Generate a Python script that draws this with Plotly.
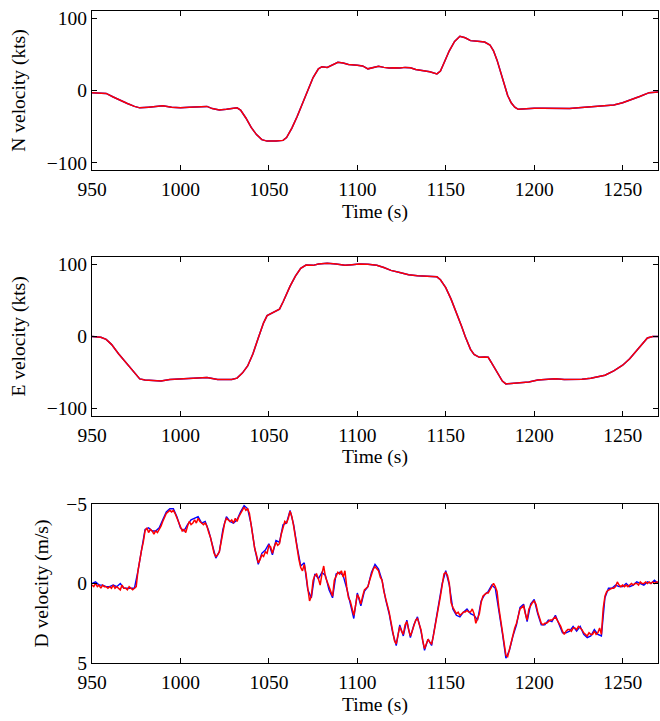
import numpy as np
import plotly.graph_objects as go
from plotly.subplots import make_subplots

# ---------------- data ----------------
n_time = [950, 955, 958, 962, 966, 970, 974, 977, 982, 986, 990, 995, 1000, 1005, 1010, 1015,
          1018, 1022, 1026, 1030, 1032, 1034, 1037, 1040, 1043, 1046, 1049, 1054, 1058, 1060,
          1063, 1066, 1069, 1072, 1075, 1078, 1080, 1083, 1086, 1089, 1092, 1095, 1100, 1103,
          1106, 1109, 1112, 1115, 1118, 1121, 1124, 1127, 1130, 1133, 1137, 1141, 1145, 1147,
          1149, 1152, 1155, 1158, 1161, 1164, 1168, 1172, 1175, 1177, 1179, 1181, 1183, 1185,
          1187, 1189, 1191, 1195, 1200, 1205, 1210, 1215, 1220, 1225, 1230, 1235, 1240, 1245,
          1250, 1255, 1260, 1265, 1270]
n_vel = [-3, -3, -4, -9, -14, -18, -22, -24, -23, -22, -21, -23, -24, -23, -23, -22,
         -25, -27, -26, -24, -24, -27, -38, -51, -61, -68, -70, -70, -69, -65,
         -52, -36, -18, 0, 18, 30, 33, 32, 35, 39, 38, 36, 35, 34,
         30, 32, 33.5, 32, 31, 31.5, 31, 32, 31.5, 29, 27.5, 26, 23, 27,
         38, 55, 68, 75, 73, 69, 68, 67, 63, 55, 42, 25, 9, -7,
         -17, -23, -26, -25, -24.5, -24.5, -25, -25, -25, -24, -23, -22.5, -21.5, -20,
         -17, -13, -8, -3, -2]

e_time = [950, 955, 958, 961, 965, 969, 973, 977, 980, 985, 989, 994, 1000, 1005, 1010, 1015,
          1018, 1021, 1025, 1029, 1032, 1035, 1038, 1041, 1044, 1047, 1049, 1052, 1056, 1058,
          1060, 1062, 1065, 1068, 1071, 1075, 1078, 1083, 1088, 1093, 1097, 1101, 1106, 1111,
          1115, 1119, 1124, 1129, 1134, 1139, 1145, 1147, 1150, 1153, 1156, 1159, 1161, 1164,
          1166, 1169, 1172, 1174, 1176, 1179, 1182, 1184, 1188, 1192, 1197, 1202, 1207, 1212,
          1217, 1222, 1227, 1232, 1237, 1240, 1245, 1250, 1254, 1257, 1261, 1264, 1267, 1270]
e_vel = [0, -1, -4, -11, -24, -36, -48, -59, -60.5, -61.5, -62, -60, -59, -58, -57, -57,
         -58.5, -60, -60, -60, -58, -51, -41, -24, -2, 19, 29, 33, 38, 48,
         60, 70, 84, 95, 99.5, 99, 101, 102, 101, 99, 100, 101, 100.5, 99,
         96, 92, 89, 86, 84.5, 83.5, 83, 79, 68, 52, 34, 14, 0, -18,
         -25, -29, -28.5, -29, -37, -50, -62, -66, -65, -65, -63.5, -60.5, -59.5, -59,
         -60, -60, -59.5, -58, -56, -54, -48, -40, -31, -22, -10, -2, 0, 0]

# D velocity, red trace: 1 s samples from t = 950 s
d_red_start, d_red_step = 950, 1
d_red = [0.1, 0.2, 0.0, 0.2, 0.1, 0.3, 0.1, 0.2, 0.2, 0.3,
         0.2, 0.3, 0.1, 0.3, 0.2, 0.3, 0.4, 0.1, 0.3, 0.3,
         0.4, 0.2, 0.3, 0.4, 0.3, 0.2, -0.8, -1.6, -2.1, -2.6,
         -3.3, -3.5, -3.2, -3.4, -3.3, -3.1, -3.3, -3.2, -3.4, -3.6,
         -3.9, -4.2, -4.4, -4.5, -4.6, -4.5, -4.6, -4.4, -4.1, -3.8,
         -3.5, -3.3, -3.4, -3.2, -3.6, -3.9, -3.7, -3.8, -4.0, -3.8,
         -4.1, -3.9, -3.8, -3.7, -3.8, -3.6, -3.2, -2.9, -2.4, -1.9,
         -1.7, -1.8, -2.0, -2.6, -3.3, -3.8, -4.1, -4.0, -3.9, -4.0,
         -3.8, -4.1, -3.9, -4.2, -4.4, -4.6, -4.8, -4.6, -4.7, -4.4,
         -3.6, -2.7, -2.2, -1.8, -1.3, -1.5, -1.8, -1.7, -2.0, -1.9,
         -2.4, -2.3, -1.9, -2.3, -2.6, -2.4, -2.5, -3.1, -3.6, -3.9,
         -3.8, -4.1, -4.55, -4.2, -3.6, -2.8, -2.2, -1.5, -1.0, -0.8,
         -1.2, -0.6, 0.3, 1.1, 0.8, -0.2, -0.5, -0.6, -0.3, 0.1,
         -0.6, -1.1, -0.4, -0.1, 0.3, 0.6, 0.8, -0.2, -0.5, -0.7,
         -0.6, -0.8, -0.4, -0.8, 0.2, 0.9, 1.1, 1.5, 2.0, 1.4,
         0.7, 0.9, 1.3, 0.8, 0.4, 0.3, 0.2, -0.2, -0.6, -0.9,
         -1.05, -0.9, -0.8, -0.4, -0.2, 0.5, 0.9, 1.4, 1.8, 2.4,
         3.0, 3.6, 3.8, 3.2, 2.7, 3.0, 3.2, 2.6, 2.4, 2.9,
         3.3, 3.0, 2.7, 2.3, 2.2, 2.6, 2.9, 3.6, 4.1, 3.8,
         3.5, 3.7, 3.8, 3.3, 2.7, 2.2, 1.5, 0.8, 0.1, -0.6,
         -0.7, -0.5, 0.0, 1.2, 1.5, 1.7, 1.9, 1.8, 2.0, 1.9,
         1.8, 1.8, 1.7, 1.8, 1.8, 1.6, 1.9, 2.5, 2.2, 1.9,
         1.2, 0.8, 0.7, 0.6, 0.6, 0.4, 0.2, 0.0, 0.2, 0.5,
         1.5, 2.2, 3.0, 3.8, 4.5, 4.6, 4.1, 3.6, 3.2, 2.8,
         2.5, 2.1, 1.6, 1.5, 1.4, 1.9, 2.3, 1.6, 1.4, 1.2,
         1.1, 1.3, 1.8, 2.2, 2.5, 2.6, 2.5, 2.5, 2.4, 2.3,
         2.3, 2.2, 2.1, 2.3, 2.5, 2.7, 3.0, 3.2, 3.0, 2.9,
         2.9, 3.0, 2.8, 2.8, 2.9, 2.7, 2.8, 2.9, 3.1, 3.2,
         3.3, 3.1, 3.2, 3.2, 3.0, 3.2, 3.1, 2.8, 3.2, 1.6,
         0.8, 0.5, 0.4, 0.35, 0.3, 0.3, 0.2, -0.1, 0.1, 0.2,
         0.1, 0.2, 0.1, 0.2, 0.1, 0.0, 0.1, 0.0, 0.0, 0.1,
         -0.1, 0.0, 0.0, -0.1, 0.0, -0.1, 0.0, -0.1, 0.0, -0.1,
         -0.1]

# D velocity, blue trace: 2 s samples from t = 950 s
d_blue_start, d_blue_step = 950, 2
d_blue = [0.0, -0.1, 0.1, 0.1, 0.2, 0.2, 0.1, 0.2, 0.0, 0.3,
          0.3, 0.3, 0.3, -0.8, -2.2, -3.4, -3.5, -3.3, -3.3, -3.5,
          -4.0, -4.5, -4.7, -4.7, -4.2, -3.5, -3.3, -3.7, -4.0, -4.1,
          -4.2, -3.8, -3.9, -3.3, -2.4, -1.6, -2.0, -3.4, -4.2, -3.9,
          -3.8, -4.0, -4.5, -4.9, -4.7, -3.7, -2.2, -1.2, -1.9, -2.1,
          -2.5, -1.8, -2.7, -2.6, -3.7, -3.8, -4.6, -3.7, -2.3, -1.1,
          -1.3, 0.4, 0.9, -0.6, -0.3, -0.7, -0.5, 0.4, 0.9, -0.6,
          -0.7, -0.5, 0.3, 1.2, 2.2, 0.6, 1.4, 0.5, 0.2, -0.7,
          -1.2, -0.9, -0.2, 1.0, 1.9, 3.1, 3.9, 2.6, 3.3, 2.3,
          3.4, 2.6, 2.1, 3.0, 4.2, 3.5, 3.9, 2.6, 1.4, 0.0,
          -0.8, 0.1, 1.6, 2.0, 2.1, 1.8, 1.6, 1.9, 2.0, 2.3,
          1.1, 0.7, 0.5, 0.1, 0.3, 1.6, 3.1, 4.7, 4.2, 3.3,
          2.6, 1.5, 1.3, 2.4, 1.3, 1.0, 1.9, 2.6, 2.6, 2.3,
          2.4, 2.0, 2.6, 3.1, 3.1, 3.0, 2.7, 3.0, 2.7, 3.2,
          3.4, 3.3, 2.9, 3.2, 3.3, 0.9, 0.3, 0.3, 0.1, 0.2,
          0.2, 0.0, 0.2, 0.1, -0.1, 0.0, 0.1, -0.1, 0.0, -0.2,
          0.0]

x_ticks = [950, 1000, 1050, 1100, 1150, 1200, 1250]
kts_ticks = [-100, 0, 100]
d_ticks = [-5, 0, 5]

d_red_time = d_red_start + d_red_step * np.arange(len(d_red))
d_blue_time = d_blue_start + d_blue_step * np.arange(len(d_blue))

# ---------------- figure ----------------
fig = make_subplots(rows=3, cols=1)
BLUE, RED = "#0000ff", "#ff0000"

fig.add_trace(go.Scatter(x=n_time, y=n_vel, mode="lines", line=dict(color=BLUE, width=1.5)), row=1, col=1)
fig.add_trace(go.Scatter(x=n_time, y=n_vel, mode="lines", line=dict(color=RED, width=1.5)), row=1, col=1)
fig.add_trace(go.Scatter(x=e_time, y=e_vel, mode="lines", line=dict(color=BLUE, width=1.5)), row=2, col=1)
fig.add_trace(go.Scatter(x=e_time, y=e_vel, mode="lines", line=dict(color=RED, width=1.5)), row=2, col=1)
fig.add_trace(go.Scatter(x=d_blue_time, y=d_blue, mode="lines", line=dict(color=BLUE, width=1.4)), row=3, col=1)
fig.add_trace(go.Scatter(x=d_red_time, y=d_red, mode="lines", line=dict(color=RED, width=1.5)), row=3, col=1)

FONT = dict(family="Liberation Serif, Times New Roman, serif", size=19.5, color="black")
axis_common = dict(showline=True, linecolor="black", linewidth=1, mirror="ticks",
                   ticks="inside", ticklen=5, tickcolor="black", tickwidth=1,
                   showgrid=False, zeroline=False, tickfont=FONT)

domains = [[0.7561, 1.0], [0.3796, 0.6220], [0.0, 0.2439]]
ytitles = ["N velocity (kts)", "E velocity (kts)", "D velocity (m/s)"]
ystandoff = [16, 16, 12]
for i in range(3):
    xa = "xaxis" if i == 0 else f"xaxis{i+1}"
    ya = "yaxis" if i == 0 else f"yaxis{i+1}"
    fig.layout[xa].update(range=[950, 1270], tickvals=x_ticks, ticklabelstandoff=2,
                          title=dict(text="Time (s)", font=FONT, standoff=4), **axis_common)
    if i < 2:
        fig.layout[ya].update(range=[-110, 110], tickvals=kts_ticks, domain=domains[i],
                              title=dict(text=ytitles[i], font=FONT, standoff=ystandoff[i]), **axis_common)
    else:
        fig.layout[ya].update(range=[5, -5], tickvals=d_ticks, domain=domains[i],
                              title=dict(text=ytitles[i], font=FONT, standoff=ystandoff[i]), **axis_common)

fig.update_layout(width=660, height=721, showlegend=False,
                  margin=dict(l=92, r=1, t=7, b=58),
                  paper_bgcolor="white", plot_bgcolor="white", font=FONT)

fig.write_html("out.html")
